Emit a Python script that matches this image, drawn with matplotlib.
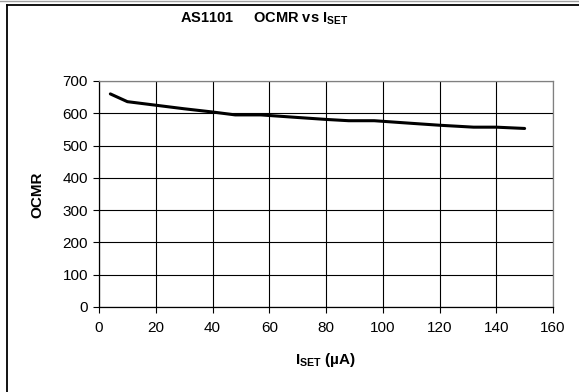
import matplotlib.pyplot as plt
from matplotlib.lines import Line2D

plt.rcParams['font.family'] = ['Liberation Sans', 'DejaVu Sans']
plt.rcParams['mathtext.fontset'] = 'custom'
plt.rcParams['mathtext.rm'] = 'Liberation Sans:bold'
plt.rcParams['mathtext.bf'] = 'Liberation Sans:bold'

# I_SET (uA) vs OCMR
iset = [4, 10, 20, 30, 40, 48, 57, 70, 80, 88, 97, 110, 120, 132, 140, 150]
ocmr = [660, 636, 625, 614, 604, 595, 595, 587, 581, 577, 577, 569, 563, 557, 557, 553]

xticks = [0, 20, 40, 60, 80, 100, 120, 140, 160]
yticks = [0, 100, 200, 300, 400, 500, 600, 700]

fig = plt.figure(figsize=(5.79, 3.92), dpi=100)
ax = fig.add_axes([99/579, 1-307/392, 454/579, 226/392])

ax.plot(iset, ocmr, color='black', lw=2.2, solid_capstyle='round')

ax.set_xlim(0, 160)
ax.set_ylim(0, 700)
ax.set_xticks(xticks)
ax.set_yticks(yticks)
ax.grid(True, color='black', lw=0.8)
ax.set_axisbelow(True)
ax.tick_params(direction='out', length=4, width=0.8, labelsize=11)
ax.tick_params(axis='x', pad=6)
ax.tick_params(axis='y', pad=4)

for s in ['top', 'right']:
    ax.spines[s].set_color('#808080')
for s in ['left', 'bottom']:
    ax.spines[s].set_color('black')
for s in ax.spines.values():
    s.set_linewidth(0.9)

fig.text(264/579, 1-18.5/392, r'AS1101     OCMR vs I$_{\mathrm{SET}}$', ha='center', va='center',
         fontsize=10.5, fontweight='bold')
fig.text(326/579, 1-360/392, r'I$_{\mathrm{SET}}$ (µA)', ha='center', va='center',
         fontsize=11, fontweight='bold')
fig.text(37/579, 1-195/392, 'OCMR', ha='center', va='center', rotation=90,
         fontsize=11, fontweight='bold')

# outer chart frame (only top and left edges show)
fig.add_artist(Line2D([0, 1], [1-0.5/392, 1-0.5/392], color='#a0a0a0', lw=1))
fig.add_artist(Line2D([7/579, 1], [1-5/392, 1-5/392], color='black', lw=1.3))
fig.add_artist(Line2D([7/579, 7/579], [0, 1-5/392], color='black', lw=1.3))

fig.savefig('out.png', dpi=100)
